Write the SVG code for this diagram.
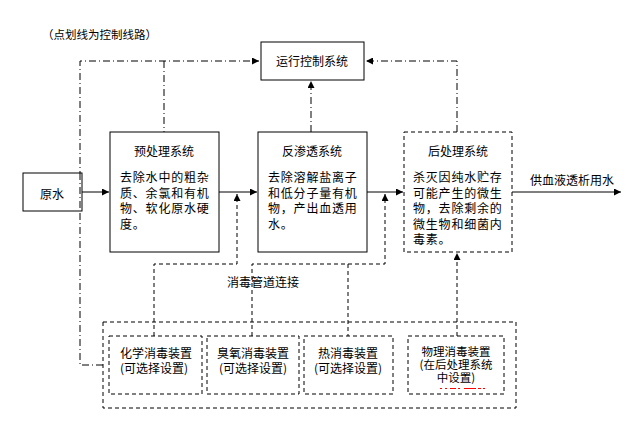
<svg xmlns="http://www.w3.org/2000/svg" width="641" height="430" viewBox="0 0 641 430">
<style>
text{font-family:"Noto Sans CJK SC","Noto Sans",sans-serif;fill:#000;}
.t12{font-size:12px;}
.t13{font-size:12px;letter-spacing:0.8px;}
.c{text-anchor:middle;}
.box{fill:#fff;stroke:#000;stroke-width:1;}
.dbox{fill:none;stroke:#000;stroke-width:1;stroke-dasharray:4,3;}
.flow{fill:none;stroke:#000;stroke-width:1;}
.ctrl{fill:none;stroke:#000;stroke-width:1;stroke-dasharray:7,3,1,3;}
.dis{fill:none;stroke:#000;stroke-width:1;stroke-dasharray:4,3;}
</style>
<defs>
<marker id="ah" viewBox="0 0 10 10" refX="10" refY="5" markerWidth="8" markerHeight="7" markerUnits="userSpaceOnUse" orient="auto">
<path d="M0,0 L10,5 L0,10 z" fill="#000"/>
</marker>
</defs>
<rect width="641" height="430" fill="#fff"/>
<text x="42" y="39" style="font-size:11.5px">（点划线为控制线路）</text>

<g id="connectors">
<!-- main flow -->
<line class="flow" x1="82" y1="192" x2="109" y2="192" marker-end="url(#ah)"/>
<line class="flow" x1="219" y1="192" x2="257" y2="192" marker-end="url(#ah)"/>
<line class="flow" x1="367" y1="192" x2="403" y2="192" marker-end="url(#ah)"/>
<line class="flow" x1="512" y1="192" x2="621" y2="192" marker-end="url(#ah)"/>
<!-- control lines -->
<polyline class="ctrl" points="103,365 80,365 80,61 259,61" marker-end="url(#ah)"/>
<line class="ctrl" x1="164" y1="61" x2="164" y2="132"/>
<line class="ctrl" x1="311" y1="132" x2="311" y2="81" marker-end="url(#ah)"/>
<polyline class="ctrl" points="457,132 457,61 366,61" marker-end="url(#ah)"/>
<!-- disinfection lines -->
<polyline class="dis" points="154,336 154,264 237,264 237,194" marker-end="url(#ah)"/>
<polyline class="dis" points="252,336 252,264 385,264 385,194" marker-end="url(#ah)"/>
<line class="dis" x1="348" y1="264" x2="348" y2="336"/>
<line class="dis" x1="457" y1="336" x2="457" y2="253" marker-end="url(#ah)"/>
</g>

<g id="yuanshui">
<rect class="box" x="23" y="173" width="59" height="38"/>
<line class="ctrl" x1="80" y1="173" x2="80" y2="211"/>
<text class="t12 c" x="52" y="199">原水</text>
</g>

<g id="yunxing">
<rect class="box" x="261" y="42" width="103" height="38"/>
<text class="t12 c" x="312" y="66">运行控制系统</text>
</g>

<g id="yuchuli">
<rect class="box" x="110" y="132" width="109" height="120"/>
<text class="t12 c" x="164" y="156">预处理系统</text>
<text class="t13" x="120" y="182">去除水中的粗杂</text>
<text class="t13" x="120" y="197.5">质、余氯和有机</text>
<text class="t13" x="120" y="213">物、软化原水硬</text>
<text class="t13" x="120" y="228.5">度。</text>
</g>

<g id="fanshentou">
<rect class="box" x="258" y="132" width="109" height="120"/>
<text class="t12 c" x="312" y="156">反渗透系统</text>
<text class="t13" x="268" y="182">去除溶解盐离子</text>
<text class="t13" x="268" y="197.5">和低分子量有机</text>
<text class="t13" x="268" y="213">物，产出血透用</text>
<text class="t13" x="268" y="228.5">水。</text>
</g>

<g id="houchuli">
<rect class="dbox" x="404" y="132" width="108" height="120"/>
<text class="t12 c" x="458" y="156">后处理系统</text>
<text class="t13" x="413" y="182">杀灭因纯水贮存</text>
<text class="t13" x="413" y="197.5">可能产生的微生</text>
<text class="t13" x="413" y="213">物，去除剩余的</text>
<text class="t13" x="413" y="228.5">微生物和细菌内</text>
<text class="t13" x="413" y="244">毒素。</text>
</g>

<g id="output-label">
<text class="t12" x="530" y="185">供血液透析用水</text>
</g>

<g id="pipe-label">
<text class="t12" x="227" y="287">消毒管道连接</text>
</g>

<g id="disinfection-group">
<rect class="dbox" x="103" y="322" width="413" height="86"/>
</g>

<g id="huaxue">
<rect class="dbox" x="109" y="336" width="93" height="58"/>
<text class="t12" x="120" y="358">化学消毒装置</text>
<text class="t12" x="120" y="373">(可选择设置)</text>
</g>

<g id="chouyang">
<rect class="dbox" x="207" y="336" width="92" height="58"/>
<text class="t12 c" x="253" y="358">臭氧消毒装置</text>
<text class="t12 c" x="253" y="373">(可选择设置)</text>
</g>

<g id="re">
<rect class="dbox" x="304" y="336" width="89" height="58"/>
<text class="t12 c" x="348" y="358">热消毒装置</text>
<text class="t12 c" x="348" y="373">(可选择设置)</text>
</g>

<g id="wuli">
<rect class="dbox" x="408" y="336" width="96" height="58"/>
<text class="c" style="font-size:11.5px" x="456" y="356">物理消毒装置</text>
<text class="c" style="font-size:11.5px" x="456" y="369">(在后处理系统</text>
<text class="c" style="font-size:11.5px" x="456" y="382">中设置)</text>
<line x1="440" y1="388.5" x2="485" y2="388.5" stroke="#f00" stroke-width="1.2" stroke-dasharray="2,3,2,3,6,2,2,4,12"/>
</g>
</svg>
